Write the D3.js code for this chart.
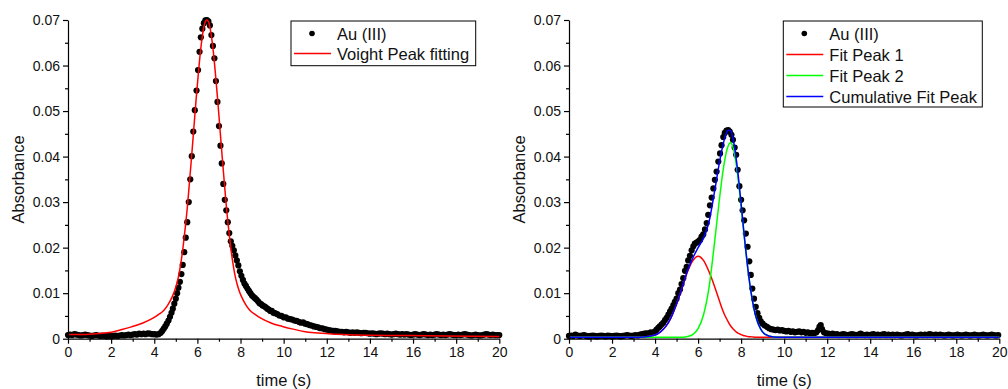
<!DOCTYPE html>
<html><head><meta charset="utf-8">
<script src="https://cdn.jsdelivr.net/npm/d3@7/dist/d3.min.js"></script>
<style>
body{margin:0;background:#fff;}
text{font-family:Arial,"Liberation Sans",sans-serif;fill:#111;}
</style>
</head><body>
<svg id="chart" width="1008" height="389"></svg>
<script>
// ---------- DATA ----------
const xTicks = [0,2,4,6,8,10,12,14,16,18,20];
const xMinorTicks = [1,3,5,7,9,11,13,15,17,19];
const yTicks = [0,0.01,0.02,0.03,0.04,0.05,0.06,0.07];
const yMinorTicks = [0.005,0.015,0.025,0.035,0.045,0.055,0.065];
const xTitle = "time (s)";
const yTitle = "Absorbance";
const legendLeft = ["Au (III)", "Voight Peak fitting"];
const legendRight = ["Au (III)", "Fit Peak 1", "Fit Peak 2", "Cumulative Fit Peak"];

// Left panel: measured Au(III) points [time, absorbance]
const auLeft = [
[0.0,.0008],[0.1,.0009],[0.2,.0008],[0.3,.0010],[0.4,.0009],[0.5,.0008],[0.6,.0007],[0.7,.0008],[0.8,.0009],[0.9,.0008],
[1.0,.0007],[1.1,.0006],[1.2,.0007],[1.3,.0008],[1.4,.0007],[1.5,.0006],[1.6,.0007],[1.7,.0006],[1.8,.0005],[1.9,.0006],
[2.0,.0005],[2.1,.0006],[2.2,.0007],[2.3,.0006],[2.4,.0007],[2.5,.0008],[2.6,.0007],[2.7,.0008],[2.8,.0009],[2.9,.0008],
[3.0,.0009],[3.1,.0010],[3.2,.0009],[3.3,.0011],[3.4,.0010],[3.5,.0011],[3.6,.0010],[3.7,.0012],[3.8,.0011],[3.9,.0010],
[4.0,.0010],[4.1,.0009],[4.20,.0010],[4.30,.0013],[4.37,.0017],[4.44,.0022],[4.51,.0027],[4.58,.0033],[4.66,.0040],[4.73,.0048],
[4.80,.0057],[4.86,.0066],[4.93,.0077],[5.00,.0088],[5.06,.0100],[5.12,.0112],[5.19,.0125],[5.26,.0142],[5.32,.0162],[5.39,.0190],
[5.46,.0222],[5.53,.0256],[5.60,.0300],[5.67,.0350],[5.74,.0401],[5.81,.0455],[5.88,.0502],[5.96,.0545],[6.03,.0590],[6.10,.0630],
[6.16,.0662],[6.23,.0681],[6.30,.0693],[6.37,.0699],[6.44,.0700],[6.51,.0697],[6.58,.0688],[6.65,.0667],[6.72,.0643],[6.79,.0616],
[6.86,.0566],[6.93,.0520],[7.00,.0467],[7.07,.0424],[7.13,.0385],[7.20,.0340],[7.27,.0305],[7.34,.0282],[7.41,.0256],[7.48,.0232],
[7.55,.0214],[7.62,.0204],[7.69,.0194],[7.76,.0183],[7.83,.0172],[7.90,.0161],[7.97,.0148],[8.04,.0138],[8.11,.0129],[8.18,.0121],
[8.25,.0116],[8.32,.0110],[8.39,.0105],[8.46,.0100],[8.53,.0095],[8.60,.0092],[8.67,.0089],[8.74,.0086],[8.81,.0082],[8.88,.0078],
[8.95,.0076],[9.02,.0073],[9.10,.0071],[9.17,.0069],[9.24,.0066],[9.31,.0064],[9.38,.0061],[9.45,.0061],[9.52,.0057],[9.60,.0056],
[9.70,.0054],[9.80,.0051],[9.90,.0050],[10.0,.0047],[10.1,.0047],[10.2,.0044],[10.3,.0043],[10.4,.0042],[10.5,.0040],[10.6,.0039],
[10.7,.0037],[10.8,.0035],[10.9,.0036],[11.0,.0033],[11.1,.0032],[11.2,.0030],[11.3,.0029],[11.4,.0027],[11.5,.0026],[11.6,.0025],
[11.7,.0023],[11.8,.0023],[11.9,.0021],[12.0,.0020],[12.1,.0019],[12.2,.0018],[12.3,.0017],[12.4,.0017],[12.5,.0016],[12.6,.0015],
[12.7,.0015],[12.8,.0014],[12.9,.0015],[13.0,.0014],[13.1,.0013],[13.2,.0014],[13.3,.0013],[13.4,.0014],[13.5,.0013],[13.6,.0012],
[13.7,.0013],[13.8,.0013],[13.9,.0012],[14.0,.0011],[14.1,.0012],[14.2,.0011],[14.3,.0010],[14.4,.0011],[14.5,.0012],[14.6,.0011],
[14.7,.0010],[14.8,.0011],[14.9,.0010],[15.0,.0009],[15.1,.0010],[15.2,.0011],[15.3,.0010],[15.4,.0009],[15.5,.0010],[15.6,.0009],
[15.7,.0010],[15.8,.0009],[15.9,.0008],[16.0,.0009],[16.1,.0010],[16.2,.0009],[16.3,.0008],[16.4,.0009],[16.5,.0010],[16.6,.0009],
[16.7,.0008],[16.8,.0009],[16.9,.0008],[17.0,.0009],[17.1,.0010],[17.2,.0009],[17.3,.0008],[17.4,.0009],[17.5,.0008],[17.6,.0009],
[17.7,.0010],[17.8,.0009],[17.9,.0008],[18.0,.0008],[18.1,.0009],[18.2,.0008],[18.3,.0009],[18.4,.0010],[18.5,.0009],[18.6,.0008],
[18.7,.0007],[18.8,.0008],[18.9,.0009],[19.0,.0008],[19.1,.0007],[19.2,.0008],[19.3,.0009],[19.4,.0010],[19.5,.0009],[19.6,.0008],
[19.7,.0009],[19.8,.0008],[19.9,.0008],[20.0,.0008]
];

// Left panel: Voigt fit curve [time, absorbance]
const voigtFit = [
[0,.0009],[1,.0010],[2,.0014],[2.5,.0020],[2.94,.0026],[3.44,.0034],[3.94,.0045],[4.19,.0053],[4.44,.0062],[4.64,.0075],
[4.84,.0093],[4.94,.0105],[5.04,.0120],[5.14,.0140],[5.24,.0168],[5.34,.0203],[5.44,.0245],[5.54,.0292],[5.64,.0348],[5.74,.0405],
[5.84,.0465],[5.94,.0525],[6.04,.0580],[6.14,.0630],[6.24,.0668],[6.34,.0693],[6.44,.0700],[6.54,.0693],[6.64,.0668],[6.74,.0630],
[6.84,.0580],[6.94,.0525],[7.04,.0465],[7.14,.0405],[7.24,.0348],[7.34,.0292],[7.44,.0245],[7.54,.0203],[7.64,.0168],[7.74,.0140],
[7.84,.0120],[7.94,.0105],[8.04,.0093],[8.24,.0075],[8.44,.0062],[8.69,.0053],[8.94,.0045],[9.44,.0034],[9.94,.0027],[10.44,.0021],
[10.94,.0016],[11.44,.0013],[12.44,.0010],[13.44,.0008],[15.44,.0007],[17.5,.0006],[20,.0005]
];

// Right panel: measured Au(III) points [time, absorbance]
const auRight = [
[0.0,.0006],[0.1,.0007],[0.2,.0006],[0.3,.0009],[0.4,.0007],[0.5,.0006],[0.6,.0007],[0.7,.0008],[0.8,.0006],[0.9,.0005],
[1.0,.0006],[1.1,.0007],[1.2,.0006],[1.3,.0005],[1.4,.0006],[1.5,.0007],[1.6,.0006],[1.7,.0005],[1.8,.0007],[1.9,.0006],
[2.0,.0005],[2.1,.0006],[2.2,.0007],[2.3,.0006],[2.4,.0005],[2.5,.0006],[2.6,.0007],[2.7,.0008],[2.8,.0007],[2.9,.0006],
[3.0,.0007],[3.1,.0008],[3.2,.0007],[3.3,.0009],[3.4,.0010],[3.5,.0011],[3.6,.0012],[3.7,.0012],[3.8,.0014],[3.9,.0013],
[4.0,.0016],[4.07,.0020],[4.15,.0024],[4.22,.0027],[4.30,.0031],[4.38,.0035],[4.46,.0041],[4.54,.0046],[4.62,.0053],[4.70,.0060],
[4.77,.0066],[4.85,.0074],[4.92,.0081],[5.00,.0088],[5.08,.0100],[5.16,.0108],[5.23,.0120],[5.31,.0133],[5.39,.0149],[5.47,.0158],
[5.54,.0172],[5.62,.0182],[5.70,.0194],[5.78,.0203],[5.85,.0209],[5.93,.0211],[6.01,.0214],[6.09,.0217],[6.16,.0224],[6.24,.0229],
[6.32,.0240],[6.40,.0254],[6.47,.0272],[6.55,.0293],[6.63,.0310],[6.71,.0330],[6.78,.0349],[6.86,.0367],[6.94,.0389],[7.02,.0407],
[7.09,.0425],[7.17,.0443],[7.24,.0452],[7.32,.0457],[7.40,.0458],[7.47,.0455],[7.55,.0448],[7.62,.0437],[7.70,.0420],[7.77,.0404],
[7.84,.0371],[7.92,.0335],[8.00,.0305],[8.07,.0282],[8.14,.0260],[8.22,.0231],[8.30,.0202],[8.38,.0170],[8.45,.0140],[8.52,.0110],
[8.60,.0088],[8.68,.0070],[8.76,.0056],[8.84,.0046],[8.92,.0038],[9.00,.0033],[9.10,.0029],[9.20,.0026],[9.30,.0023],[9.40,.0021],
[9.50,.0020],[9.60,.0019],[9.70,.0020],[9.80,.0018],[9.90,.0019],[10.0,.0017],[10.1,.0016],[10.2,.0017],[10.3,.0015],[10.4,.0016],
[10.5,.0014],[10.6,.0015],[10.7,.0016],[10.8,.0014],[10.9,.0015],[11.0,.0013],[11.1,.0014],[11.2,.0012],[11.3,.0013],[11.4,.0012],
[11.5,.0014],[11.58,.0019],[11.64,.0026],[11.70,.0030],[11.76,.0021],[11.85,.0014],[11.95,.0012],[12.05,.0011],[12.15,.0010],[12.25,.0011],
[12.35,.0009],[12.45,.0010],[12.55,.0008],[12.65,.0009],[12.75,.0010],[12.85,.0009],[12.95,.0008],[13.05,.0009],[13.15,.0010],[13.25,.0009],
[13.35,.0008],[13.45,.0009],[13.55,.0011],[13.65,.0009],[13.75,.0008],[13.85,.0009],[13.95,.0008],[14.05,.0009],[14.15,.0010],[14.25,.0008],
[14.35,.0009],[14.45,.0008],[14.55,.0009],[14.65,.0010],[14.75,.0008],[14.85,.0009],[14.95,.0008],[15.05,.0009],[15.15,.0008],[15.25,.0009],
[15.35,.0008],[15.45,.0007],[15.55,.0008],[15.65,.0009],[15.75,.0010],[15.85,.0008],[15.95,.0009],[16.05,.0008],[16.15,.0007],[16.25,.0008],
[16.35,.0009],[16.45,.0008],[16.55,.0009],[16.65,.0008],[16.75,.0010],[16.85,.0009],[16.95,.0008],[17.05,.0009],[17.15,.0008],[17.25,.0009],
[17.35,.0008],[17.45,.0007],[17.55,.0008],[17.65,.0009],[17.75,.0008],[17.85,.0007],[17.95,.0008],[18.05,.0009],[18.15,.0008],[18.25,.0007],
[18.35,.0008],[18.45,.0009],[18.55,.0008],[18.65,.0007],[18.75,.0008],[18.85,.0009],[18.95,.0008],[19.05,.0007],[19.15,.0008],[19.25,.0009],
[19.35,.0008],[19.45,.0007],[19.55,.0008],[19.65,.0009],[19.75,.0008],[19.85,.0007],[19.95,.0008]
];

// Right panel fit curves: shared time grid and values
const fitTimeRight = [0,1,2,2.5,3,3.5,4,4.25,4.5,4.75,5,5.25,5.5,5.75,6,6.25,6.5,6.75,7,7.1,7.2,7.3,7.4,7.5,7.6,7.7,7.8,7.9,8.0,8.1,8.2,8.3,8.5,8.7,8.9,9.1,9.5,10,11,12,14,16,20];
const fitPeak1 = [.0003,.0003,.0003,.0003,.0003,.0004,.0008,.0015,.0027,.0047,.0076,.0111,.0146,.0171,.0181,.0172,.0148,.0117,.0082,.0068,.0056,.0046,.0037,.0029,.0023,.0018,.0014,.0011,.0009,.0007,.0006,.0005,.0004,.0003,.0003,.0003,.0003,.0003,.0003,.0003,.0003,.0003,.0003];
const fitPeak2 = [.0003,.0003,.0003,.0003,.0003,.0003,.0003,.0003,.0003,.0003,.0003,.0003,.0005,.0009,.0022,.0052,.0110,.0205,.0310,.0348,.0381,.0407,.0424,.0431,.0424,.0404,.0374,.0335,.0290,.0244,.0199,.0157,.0090,.0046,.0022,.0010,.0004,.0003,.0003,.0003,.0003,.0003,.0003];
const fitCumulative = [.0003,.0003,.0003,.0003,.0003,.0004,.0008,.0015,.0027,.0047,.0076,.0111,.0148,.0177,.0200,.0221,.0255,.0319,.0389,.0413,.0434,.0450,.0458,.0457,.0444,.0419,.0385,.0343,.0296,.0248,.0202,.0159,.0091,.0046,.0022,.0010,.0004,.0003,.0003,.0003,.0003,.0003,.0003];

// ---------- DRAWING ----------
const svg = d3.select("#chart");
const yTop = 20, yBottom = 338.7;

function drawPanel(x0, x1, opts) {
  const x = d3.scaleLinear().domain([0, 20]).range([x0, x1]);
  const y = d3.scaleLinear().domain([0, 0.07]).range([yBottom, yTop]);
  const g = svg.append("g");

  // data dots
  g.append("g").selectAll("circle").data(opts.points).join("circle")
    .attr("cx", d => x(d[0])).attr("cy", d => y(d[1])).attr("r", 3.1).attr("fill", "#000");

  // fit lines
  const line = d3.line().x(d => x(d[0])).y(d => y(d[1])).curve(d3.curveMonotoneX);
  opts.lines.forEach(l => {
    g.append("path").datum(l.data).attr("d", line)
      .attr("fill", "none").attr("stroke", l.color).attr("stroke-width", 1.5);
  });

  // axes
  g.append("g").attr("transform", `translate(0,${yBottom})`)
    .call(d3.axisBottom(x).tickValues(xTicks).tickSize(5).tickSizeOuter(0).tickPadding(3).tickFormat(d3.format("d")));
  g.append("g").attr("transform", `translate(0,${yBottom})`)
    .call(d3.axisBottom(x).tickValues(xMinorTicks).tickSize(3).tickSizeOuter(0).tickFormat(""))
    .select(".domain").remove();
  g.append("g").attr("transform", `translate(${x0},0)`)
    .call(d3.axisLeft(y).tickValues(yTicks).tickSize(5).tickSizeOuter(0).tickPadding(3)
      .tickFormat(d => d === 0 ? "0" : d3.format(".2f")(d)));
  g.append("g").attr("transform", `translate(${x0},0)`)
    .call(d3.axisLeft(y).tickValues(yMinorTicks).tickSize(3).tickSizeOuter(0).tickFormat(""))
    .select(".domain").remove();
  g.selectAll(".domain, .tick line").attr("stroke", "#000").attr("stroke-width", 1.2);
  g.selectAll(".tick text").attr("font-size", 14).attr("fill", "#111")
    .attr("font-family", "Arial, 'Liberation Sans', sans-serif");

  // titles
  g.append("text").attr("x", (x0 + x1) / 2).attr("y", 386).attr("text-anchor", "middle")
    .attr("font-size", 16.5).text(xTitle);
  g.append("text").attr("transform", `translate(${x0 - 44},${(yTop + yBottom) / 2}) rotate(-90)`)
    .attr("text-anchor", "middle").attr("font-size", 16.5).text(yTitle);

  // legend
  const L = opts.legend;
  const lg = g.append("g");
  lg.append("rect").attr("x", L.x).attr("y", L.y).attr("width", L.w).attr("height", L.h)
    .attr("fill", "#fff").attr("stroke", "#000").attr("stroke-width", 1);
  L.items.forEach((it, i) => {
    const cy = L.y + 12.5 + i * L.step;
    if (it.type === "dot") {
      lg.append("circle").attr("cx", L.x + 21).attr("cy", cy).attr("r", 2.8).attr("fill", "#000");
    } else {
      lg.append("line").attr("x1", L.x + 3).attr("x2", L.x + 40).attr("y1", cy).attr("y2", cy)
        .attr("stroke", it.color).attr("stroke-width", 1.5);
    }
    lg.append("text").attr("x", L.x + 46).attr("y", cy + 6).attr("font-size", 16.5).text(it.label);
  });
}

drawPanel(68, 499.3, {
  points: auLeft,
  lines: [{data: voigtFit, color: "#ff0000"}],
  legend: {x: 291, y: 21, w: 184.7, h: 44.7, step: 20,
    items: [{type: "dot", label: legendLeft[0]}, {type: "line", color: "#ff0000", label: legendLeft[1]}]}
});

const zipFit = vals => fitTimeRight.map((t, i) => [t, vals[i]]);
drawPanel(569, 999.3, {
  points: auRight,
  lines: [
    {data: zipFit(fitPeak1), color: "#ff0000"},
    {data: zipFit(fitPeak2), color: "#00ff00"},
    {data: zipFit(fitCumulative), color: "#0000ff"}
  ],
  legend: {x: 783.3, y: 21, w: 199, h: 86, step: 21,
    items: [{type: "dot", label: legendRight[0]}, {type: "line", color: "#ff0000", label: legendRight[1]},
            {type: "line", color: "#00ff00", label: legendRight[2]}, {type: "line", color: "#0000ff", label: legendRight[3]}]}
});
</script>
</body></html>
